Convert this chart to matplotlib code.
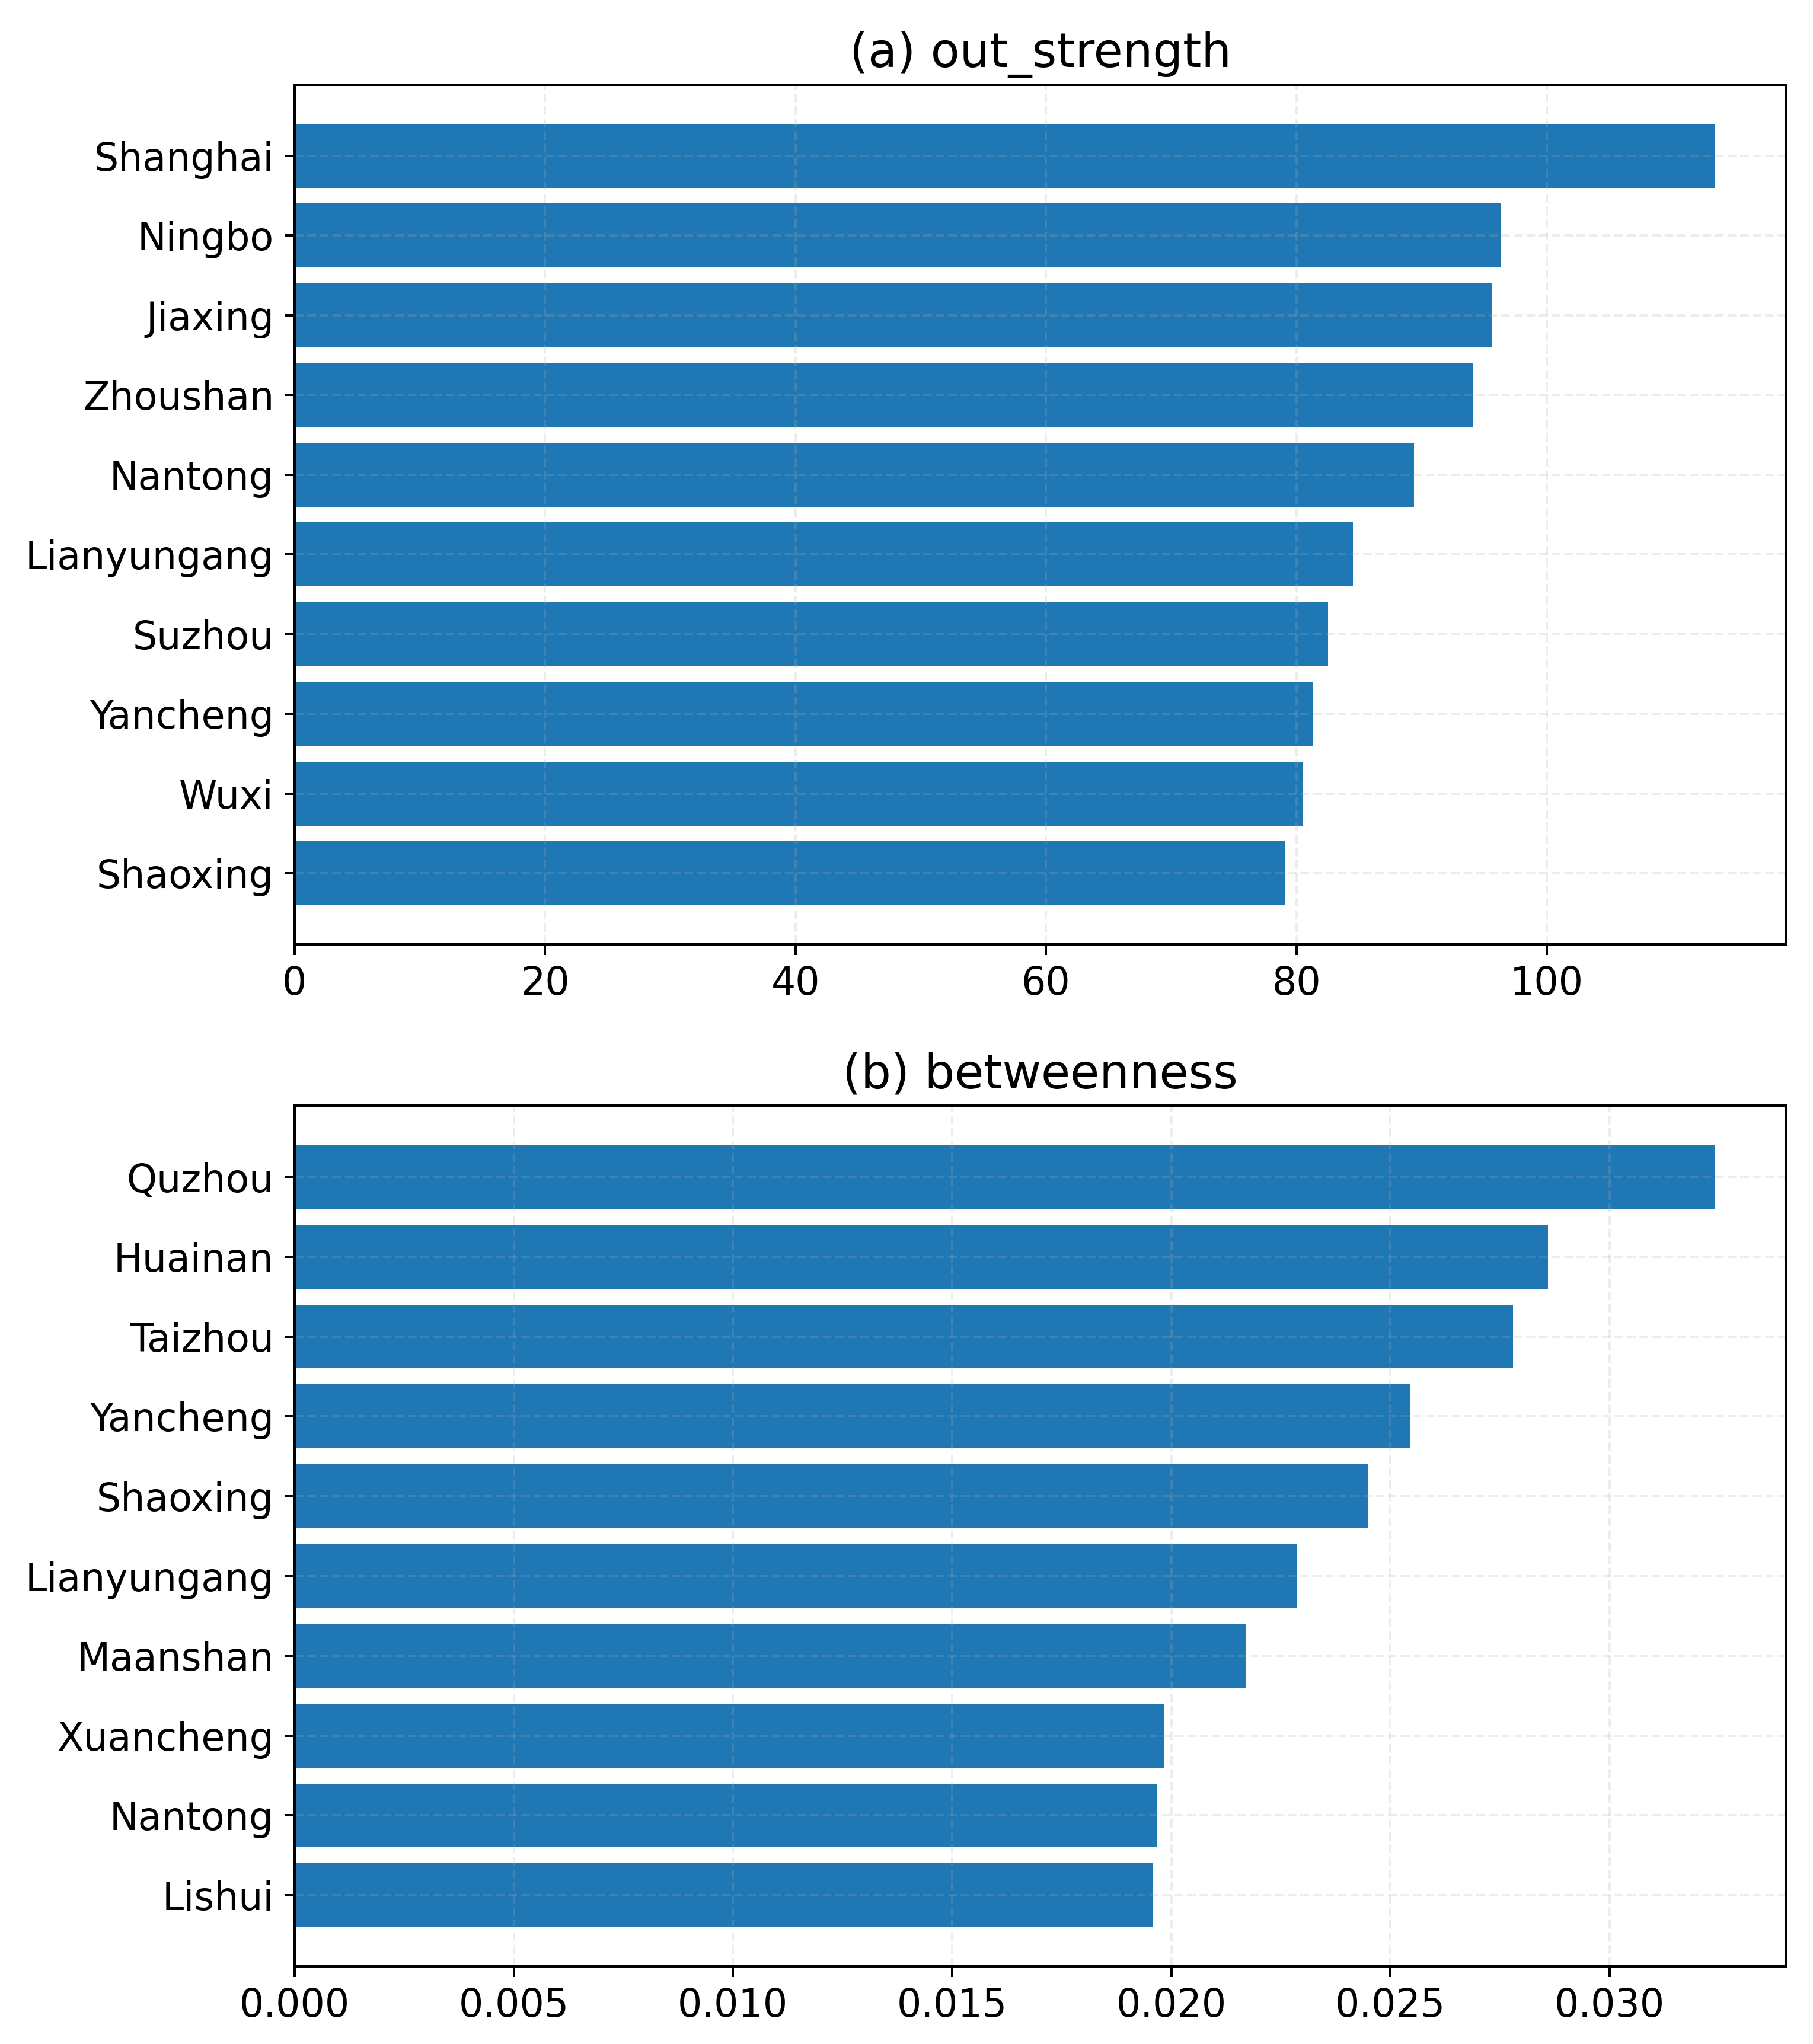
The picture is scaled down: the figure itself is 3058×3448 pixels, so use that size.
import matplotlib
matplotlib.use("Agg")
import matplotlib.pyplot as plt

cities_a = ["Shanghai", "Ningbo", "Jiaxing", "Zhoushan", "Nantong",
            "Lianyungang", "Suzhou", "Yancheng", "Wuxi", "Shaoxing"]
values_a = [113.4, 96.3, 95.6, 94.1, 89.4, 84.5, 82.5, 81.3, 80.5, 79.1]

cities_b = ["Quzhou", "Huainan", "Taizhou", "Yancheng", "Shaoxing",
            "Lianyungang", "Maanshan", "Xuancheng", "Nantong", "Lishui"]
values_b = [0.03240, 0.02859, 0.02780, 0.02546, 0.02449,
            0.02287, 0.02171, 0.01983, 0.01967, 0.01958]

titles = ["(a) out_strength", "(b) betweenness"]

s = 1.2
fig = plt.figure(figsize=(3058 / 300, 3448 / 300), dpi=300)
ax_a = fig.add_axes([0.1625, 0.538, 0.8225, 0.4205])
ax_b = fig.add_axes([0.1625, 0.038, 0.8225, 0.421])

for ax, cities, vals, title in [(ax_a, cities_a, values_a, titles[0]),
                                (ax_b, cities_b, values_b, titles[1])]:
    ax.barh(cities[::-1], vals[::-1], color="#1f77b4", height=0.8)
    ax.set_title(title, fontsize=19.2, pad=6 * s)
    ax.tick_params(axis="both", labelsize=15.6, length=3.5 * s,
                   width=0.8 * s, pad=3.5 * s)
    for sp in ax.spines.values():
        sp.set_linewidth(0.8 * s)
    ax.grid(True, linestyle="--", alpha=0.22, linewidth=0.8 * s)
    ax.set_xlim(left=0)

ax_b.xaxis.set_major_formatter(matplotlib.ticker.FormatStrFormatter("%.3f"))

fig.savefig("out.png", dpi=300)
